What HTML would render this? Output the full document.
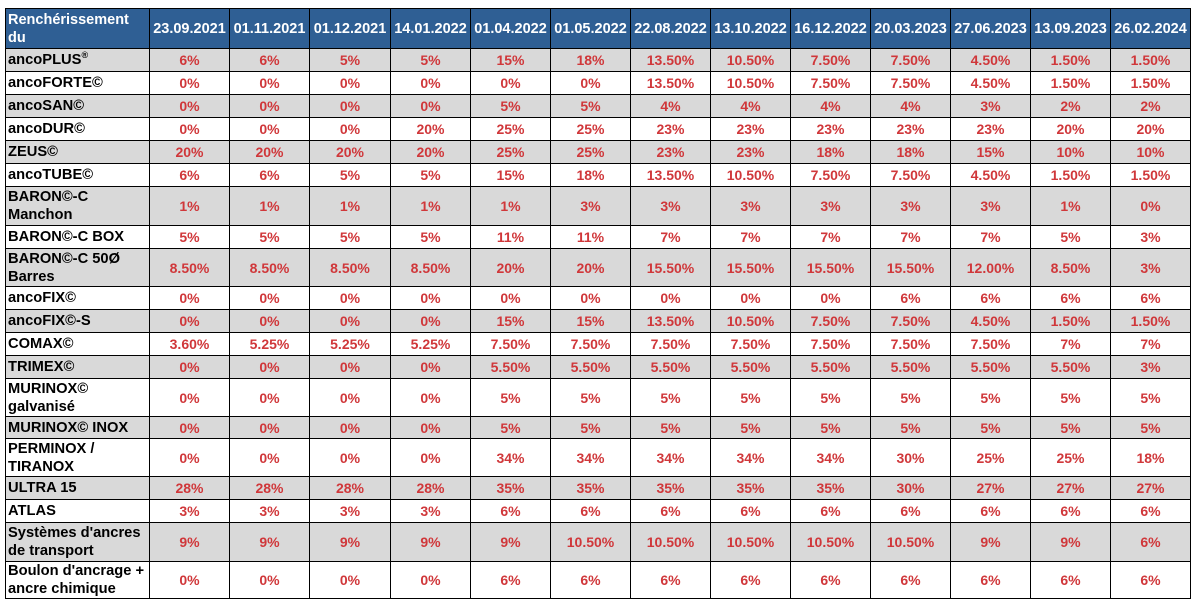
<!DOCTYPE html>
<html><head><meta charset="utf-8"><style>
body{margin:0;background:#fff;width:1197px;height:607px;overflow:hidden}
table{position:absolute;left:5px;top:8px;border-collapse:collapse;table-layout:fixed;font-family:"Liberation Sans",Arial,sans-serif;font-weight:bold;font-size:14px}
td,th{border:1px solid #000;padding:0 2px;line-height:18px;overflow:hidden;white-space:normal}
th{background:#2f5f94;color:#fff;font-size:14.5px;text-align:center}
th:first-child{text-align:left}
td{color:#d0373a;text-align:center}
td:first-child{color:#000;text-align:left;font-size:14.7px}
tr.g td{background:#d9d9d9}
sup{line-height:0}
</style></head><body>
<table>
<colgroup><col style="width:144px"><col style="width:80px"><col style="width:80px"><col style="width:81px"><col style="width:80px"><col style="width:80px"><col style="width:80px"><col style="width:80px"><col style="width:80px"><col style="width:80px"><col style="width:80px"><col style="width:80px"><col style="width:80px"><col style="width:80px"></colgroup>
<tr style="height:40px"><th>Renchérissement du</th><th>23.09.2021</th><th>01.11.2021</th><th>01.12.2021</th><th>14.01.2022</th><th>01.04.2022</th><th>01.05.2022</th><th>22.08.2022</th><th>13.10.2022</th><th>16.12.2022</th><th>20.03.2023</th><th>27.06.2023</th><th>13.09.2023</th><th>26.02.2024</th></tr>
<tr class="g" style="height:23px"><td>ancoPLUS<sup style="font-size:9px">®</sup></td><td>6%</td><td>6%</td><td>5%</td><td>5%</td><td>15%</td><td>18%</td><td>13.50%</td><td>10.50%</td><td>7.50%</td><td>7.50%</td><td>4.50%</td><td>1.50%</td><td>1.50%</td></tr>
<tr style="height:23px"><td>ancoFORTE©</td><td>0%</td><td>0%</td><td>0%</td><td>0%</td><td>0%</td><td>0%</td><td>13.50%</td><td>10.50%</td><td>7.50%</td><td>7.50%</td><td>4.50%</td><td>1.50%</td><td>1.50%</td></tr>
<tr class="g" style="height:23px"><td>ancoSAN©</td><td>0%</td><td>0%</td><td>0%</td><td>0%</td><td>5%</td><td>5%</td><td>4%</td><td>4%</td><td>4%</td><td>4%</td><td>3%</td><td>2%</td><td>2%</td></tr>
<tr style="height:23px"><td>ancoDUR©</td><td>0%</td><td>0%</td><td>0%</td><td>20%</td><td>25%</td><td>25%</td><td>23%</td><td>23%</td><td>23%</td><td>23%</td><td>23%</td><td>20%</td><td>20%</td></tr>
<tr class="g" style="height:23px"><td>ZEUS©</td><td>20%</td><td>20%</td><td>20%</td><td>20%</td><td>25%</td><td>25%</td><td>23%</td><td>23%</td><td>18%</td><td>18%</td><td>15%</td><td>10%</td><td>10%</td></tr>
<tr style="height:23px"><td>ancoTUBE©</td><td>6%</td><td>6%</td><td>5%</td><td>5%</td><td>15%</td><td>18%</td><td>13.50%</td><td>10.50%</td><td>7.50%</td><td>7.50%</td><td>4.50%</td><td>1.50%</td><td>1.50%</td></tr>
<tr class="g" style="height:39px"><td>BARON©-C Manchon</td><td>1%</td><td>1%</td><td>1%</td><td>1%</td><td>1%</td><td>3%</td><td>3%</td><td>3%</td><td>3%</td><td>3%</td><td>3%</td><td>1%</td><td>0%</td></tr>
<tr style="height:23px"><td>BARON©-C BOX</td><td>5%</td><td>5%</td><td>5%</td><td>5%</td><td>11%</td><td>11%</td><td>7%</td><td>7%</td><td>7%</td><td>7%</td><td>7%</td><td>5%</td><td>3%</td></tr>
<tr class="g" style="height:38px"><td>BARON©-C 50Ø Barres</td><td>8.50%</td><td>8.50%</td><td>8.50%</td><td>8.50%</td><td>20%</td><td>20%</td><td>15.50%</td><td>15.50%</td><td>15.50%</td><td>15.50%</td><td>12.00%</td><td>8.50%</td><td>3%</td></tr>
<tr style="height:23px"><td>ancoFIX©</td><td>0%</td><td>0%</td><td>0%</td><td>0%</td><td>0%</td><td>0%</td><td>0%</td><td>0%</td><td>0%</td><td>6%</td><td>6%</td><td>6%</td><td>6%</td></tr>
<tr class="g" style="height:23px"><td>ancoFIX©-S</td><td>0%</td><td>0%</td><td>0%</td><td>0%</td><td>15%</td><td>15%</td><td>13.50%</td><td>10.50%</td><td>7.50%</td><td>7.50%</td><td>4.50%</td><td>1.50%</td><td>1.50%</td></tr>
<tr style="height:23px"><td>COMAX©</td><td>3.60%</td><td>5.25%</td><td>5.25%</td><td>5.25%</td><td>7.50%</td><td>7.50%</td><td>7.50%</td><td>7.50%</td><td>7.50%</td><td>7.50%</td><td>7.50%</td><td>7%</td><td>7%</td></tr>
<tr class="g" style="height:23px"><td>TRIMEX©</td><td>0%</td><td>0%</td><td>0%</td><td>0%</td><td>5.50%</td><td>5.50%</td><td>5.50%</td><td>5.50%</td><td>5.50%</td><td>5.50%</td><td>5.50%</td><td>5.50%</td><td>3%</td></tr>
<tr style="height:38px"><td>MURINOX© galvanisé</td><td>0%</td><td>0%</td><td>0%</td><td>0%</td><td>5%</td><td>5%</td><td>5%</td><td>5%</td><td>5%</td><td>5%</td><td>5%</td><td>5%</td><td>5%</td></tr>
<tr class="g" style="height:22px"><td>MURINOX© INOX</td><td>0%</td><td>0%</td><td>0%</td><td>0%</td><td>5%</td><td>5%</td><td>5%</td><td>5%</td><td>5%</td><td>5%</td><td>5%</td><td>5%</td><td>5%</td></tr>
<tr style="height:38px"><td>PERMINOX / TIRANOX</td><td>0%</td><td>0%</td><td>0%</td><td>0%</td><td>34%</td><td>34%</td><td>34%</td><td>34%</td><td>34%</td><td>30%</td><td>25%</td><td>25%</td><td>18%</td></tr>
<tr class="g" style="height:23px"><td>ULTRA 15</td><td>28%</td><td>28%</td><td>28%</td><td>28%</td><td>35%</td><td>35%</td><td>35%</td><td>35%</td><td>35%</td><td>30%</td><td>27%</td><td>27%</td><td>27%</td></tr>
<tr style="height:23px"><td>ATLAS</td><td>3%</td><td>3%</td><td>3%</td><td>3%</td><td>6%</td><td>6%</td><td>6%</td><td>6%</td><td>6%</td><td>6%</td><td>6%</td><td>6%</td><td>6%</td></tr>
<tr class="g" style="height:39px"><td>Systèmes d'ancres de transport</td><td>9%</td><td>9%</td><td>9%</td><td>9%</td><td>9%</td><td>10.50%</td><td>10.50%</td><td>10.50%</td><td>10.50%</td><td>10.50%</td><td>9%</td><td>9%</td><td>6%</td></tr>
<tr style="height:37px"><td>Boulon d'ancrage + ancre chimique</td><td>0%</td><td>0%</td><td>0%</td><td>0%</td><td>6%</td><td>6%</td><td>6%</td><td>6%</td><td>6%</td><td>6%</td><td>6%</td><td>6%</td><td>6%</td></tr>
</table>
</body></html>
